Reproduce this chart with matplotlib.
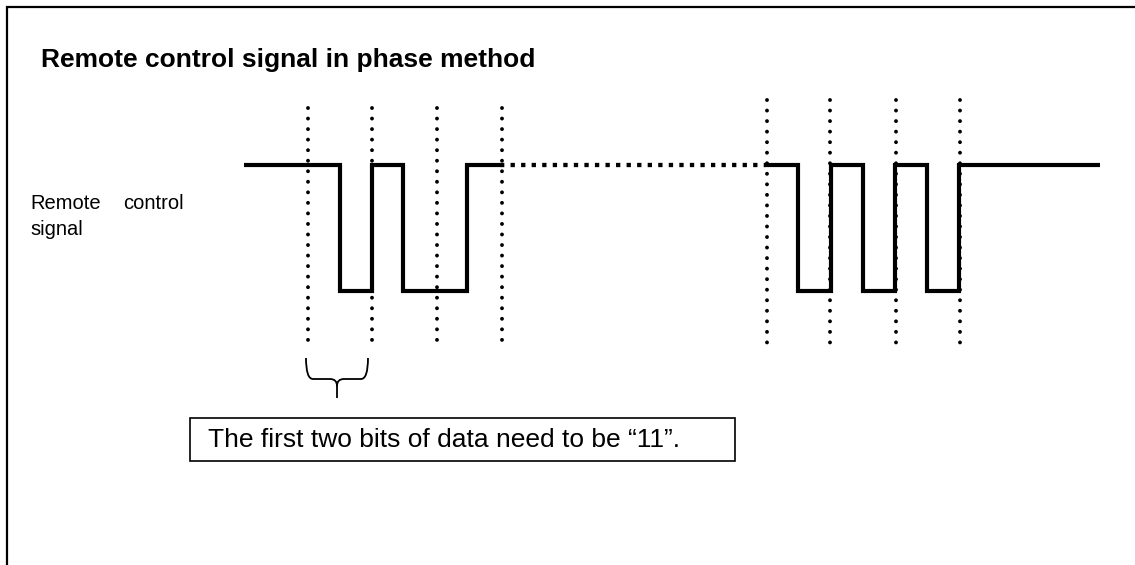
import matplotlib
matplotlib.use("Agg")
import matplotlib.pyplot as plt
from matplotlib.path import Path
from matplotlib.patches import PathPatch, Rectangle

plt.rcParams['font.family'] = ['Liberation Sans', 'DejaVu Sans']

# diagram is laid out in pixel units of the original picture (y grows downward)
title = "Remote control signal in phase method"
signal_label = ["Remote", "control", "signal"]
note = "The first two bits of data need to be \u201c11\u201d."

high_y = 165
low_y = 291

# first burst: edge times and logic level that follows each edge
burst1_t = [244, 340, 372, 403, 467, 500]
burst1_lv = [1, 0, 1, 0, 1, 1]
# last burst
burst2_t = [766, 798, 831, 863, 895, 927, 959, 1100]
burst2_lv = [1, 0, 1, 0, 1, 0, 1, 1]

# bit boundary markers
marks1_x = [308, 372, 437, 502]
marks2_x = [767, 830, 896, 960]

fig = plt.figure(figsize=(11.35, 5.65), dpi=100)
ax = fig.add_axes([0, 0, 1, 1])
ax.set_xlim(0, 1135)
ax.set_ylim(565, 0)
ax.axis('off')

# outer frame (left and top only)
ax.plot([7, 7, 1135], [565, 7, 7], color='black', lw=1.6, solid_joinstyle='miter')

ax.text(41, 67, title, fontsize=19, fontweight='bold', va='baseline', ha='left')

ax.text(30, 209, signal_label[0], fontsize=14.5, va='baseline', ha='left')
ax.text(184, 209, signal_label[1], fontsize=14.5, va='baseline', ha='right')
ax.text(30, 235, signal_label[2], fontsize=14.5, va='baseline', ha='left')


def level_to_y(levels):
    return [high_y if v else low_y for v in levels]


for t, lv in [(burst1_t, burst1_lv), (burst2_t, burst2_lv)]:
    ax.step(t, level_to_y(lv), where='post', color='black', lw=3.0,
            solid_joinstyle='miter', solid_capstyle='butt', zorder=3)

# idle stretch between bursts
ax.plot([burst1_t[-1], burst2_t[0]], [high_y, high_y], color='black', lw=3.1,
        linestyle=(0, (1, 1.45)), dash_capstyle='butt', zorder=3)

for xs, top, bot in [(marks1_x, 108, 346), (marks2_x, 100, 348)]:
    for x in xs:
        ax.plot([x, x], [top, bot], color='black', lw=2.8,
                linestyle=(0, (0.01, 2.7)), dash_capstyle='round', zorder=4)

# curly brace under the first bit
brace = Path(
    [(306, 358), (306, 379), (313, 379), (330, 379), (337, 379), (337, 386), (337, 398),
     (368, 358), (368, 379), (361, 379), (344, 379), (337, 379), (337, 386)],
    [Path.MOVETO, Path.CURVE3, Path.CURVE3, Path.LINETO, Path.CURVE3, Path.CURVE3, Path.LINETO,
     Path.MOVETO, Path.CURVE3, Path.CURVE3, Path.LINETO, Path.CURVE3, Path.CURVE3])
ax.add_patch(PathPatch(brace, facecolor='none', edgecolor='black', lw=1.3))

ax.add_patch(Rectangle((190, 418), 545, 43, facecolor='white', edgecolor='black', lw=1.2))
ax.text(208, 447, note, fontsize=19, va='baseline', ha='left')

fig.savefig("out.png", dpi=100)
